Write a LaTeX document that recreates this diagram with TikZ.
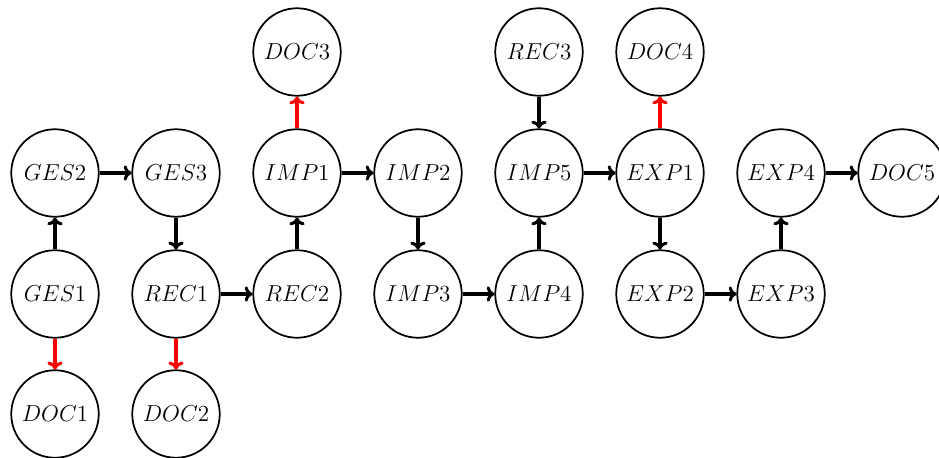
\documentclass[tikz,border=0pt]{standalone}
\usetikzlibrary{arrows.meta}
\begin{document}
\begin{tikzpicture}[x=0.52pt,y=-0.52pt,
  state/.style={draw,circle,line width=0.9pt,minimum size=45.5pt,inner sep=0pt,font=\large},
  flow/.style={-{To[length=4pt,width=8pt,round]},line width=1.6pt},
  docflow/.style={flow,red}]
\useasboundingbox (0,0) rectangle (939,458);
% column 1
\node[state] (GES2) at (55,173) {$GES2$};
\node[state] (GES1) at (55,294) {$GES1$};
\node[state] (DOC1) at (55,414) {$DOC1$};
% column 2
\node[state] (GES3) at (176,173) {$GES3$};
\node[state] (REC1) at (176,294) {$REC1$};
\node[state] (DOC2) at (176,414) {$DOC2$};
% column 3
\node[state] (DOC3) at (297,52) {$DOC3$};
\node[state] (IMP1) at (297,173) {$IMP1$};
\node[state] (REC2) at (297,294) {$REC2$};
% column 4
\node[state] (IMP2) at (418,173) {$IMP2$};
\node[state] (IMP3) at (418,294) {$IMP3$};
% column 5
\node[state] (REC3) at (539,52) {$REC3$};
\node[state] (IMP5) at (539,173) {$IMP5$};
\node[state] (IMP4) at (539,294) {$IMP4$};
% column 6
\node[state] (DOC4) at (660,52) {$DOC4$};
\node[state] (EXP1) at (660,173) {$EXP1$};
\node[state] (EXP2) at (660,294) {$EXP2$};
% column 7
\node[state] (EXP4) at (781,173) {$EXP4$};
\node[state] (EXP3) at (781,294) {$EXP3$};
% column 8
\node[state] (DOC5) at (902,173) {$DOC5$};

% process flow
\draw[flow] (GES1) -- (GES2);
\draw[flow] (GES2) -- (GES3);
\draw[flow] (GES3) -- (REC1);
\draw[flow] (REC1) -- (REC2);
\draw[flow] (REC2) -- (IMP1);
\draw[flow] (IMP1) -- (IMP2);
\draw[flow] (IMP2) -- (IMP3);
\draw[flow] (IMP3) -- (IMP4);
\draw[flow] (IMP4) -- (IMP5);
\draw[flow] (REC3) -- (IMP5);
\draw[flow] (IMP5) -- (EXP1);
\draw[flow] (EXP1) -- (EXP2);
\draw[flow] (EXP2) -- (EXP3);
\draw[flow] (EXP3) -- (EXP4);
\draw[flow] (EXP4) -- (DOC5);

% documents produced
\draw[docflow] (GES1) -- (DOC1);
\draw[docflow] (REC1) -- (DOC2);
\draw[docflow] (IMP1) -- (DOC3);
\draw[docflow] (EXP1) -- (DOC4);
\end{tikzpicture}
\end{document}
